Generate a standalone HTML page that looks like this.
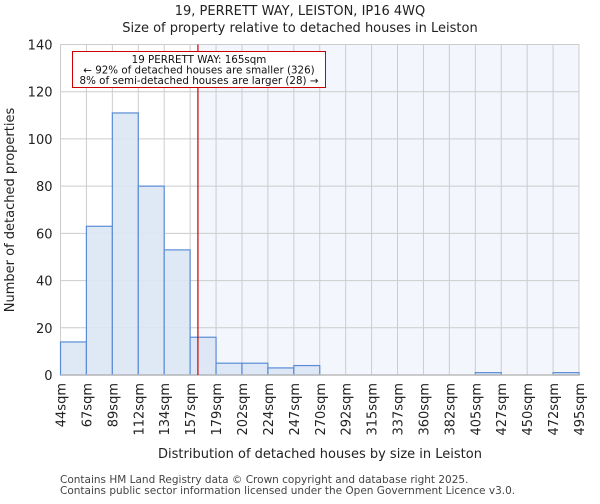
<!DOCTYPE html>
<html><head><meta charset="utf-8"><style>
body{margin:0;background:#fff;font-family:"DejaVu Sans","Liberation Sans",sans-serif;}
svg text{font-family:"DejaVu Sans","Liberation Sans",sans-serif;}
</style></head><body>
<svg id="c" width="600" height="500" xmlns="http://www.w3.org/2000/svg"></svg>
<script>
const binLabels=["44sqm","67sqm","89sqm","112sqm","134sqm","157sqm","179sqm","202sqm","224sqm","247sqm","270sqm","292sqm","315sqm","337sqm","360sqm","382sqm","405sqm","427sqm","450sqm","472sqm","495sqm"];
const counts=[14,63,111,80,53,16,5,5,3,4,0,0,0,0,0,0,1,0,0,1];
const yTicks=[0,20,40,60,80,100,120,140];
const markerPos=5.3;
const NS="http://www.w3.org/2000/svg";
const svg=document.getElementById('c');
const L=60.5,R=579,T=44.5,B=375;
const X=i=>L+(R-L)*i/counts.length;
const Y=v=>B-(B-T)*v/140;
function el(t,a,p){const e=document.createElementNS(NS,t);for(const k in a)e.setAttribute(k,a[k]);(p||svg).appendChild(e);return e;}
function tx(s,a){const e=el('text',a);e.textContent=s;return e;}
// shaded region
let sh=el('rect',{x:X(markerPos),y:T,width:R-X(markerPos),height:B-T,fill:'#f3f6fd'});

// grid
yTicks.forEach(v=>{let g=el('line',{x1:L,x2:R,y1:Y(v),y2:Y(v),stroke:'#cccccc','stroke-width':1});

let t=tx(String(v),{x:L-8,y:Y(v)+5,'text-anchor':'end','font-size':13,fill:'#222'});
});
binLabels.forEach((s,i)=>{let g=el('line',{x1:X(i),x2:X(i),y1:T,y2:B,stroke:'#cccccc','stroke-width':1});

let t=tx(s,{x:0,y:0,'text-anchor':'end','font-size':13,fill:'#222',transform:`translate(${X(i)+5},${B+8}) rotate(-90)`});
});
// bars
counts.forEach((v,i)=>{if(v<=0)return;let r=el('rect',{x:X(i),y:Y(v),width:X(i+1)-X(i),height:B-Y(v),fill:'#dce6f4',stroke:'#5a8dd6','stroke-width':1.2,'fill-opacity':0.9});
});
// axis
let ax=el('line',{x1:L,x2:R,y1:B,y2:B,stroke:'#bbbbbb','stroke-width':1.5});
// marker
let m=el('line',{x1:X(markerPos),x2:X(markerPos),y1:T,y2:B,stroke:'#cc0000','stroke-width':1.2});

// annotation
let bx=el('rect',{x:72.5,y:51.5,width:253,height:36,fill:'#fff',stroke:'#cc0000','stroke-width':1});

[["19 PERRETT WAY: 165sqm",63],["← 92% of detached houses are smaller (326)",73.5],["8% of semi-detached houses are larger (28) →",84]].forEach(([s,y])=>{
let t=tx(s,{x:199,y:y,'text-anchor':'middle','font-size':10.3,fill:'#111'});});
// titles
let t1=tx("19, PERRETT WAY, LEISTON, IP16 4WQ",{x:300,y:15,'text-anchor':'middle','font-size':13,fill:'#222'});
let t2=tx("Size of property relative to detached houses in Leiston",{x:300,y:32,'text-anchor':'middle','font-size':13,fill:'#222'});
let xt=tx("Distribution of detached houses by size in Leiston",{x:320,y:458,'text-anchor':'middle','font-size':13,fill:'#222'});
let yt=tx("Number of detached properties",{x:0,y:0,'text-anchor':'middle','font-size':13,fill:'#222',transform:'translate(14,210) rotate(-90)'});
let f1=tx("Contains HM Land Registry data © Crown copyright and database right 2025.",{x:60,y:483,'font-size':10.5,fill:'#444'});
let f2=tx("Contains public sector information licensed under the Open Government Licence v3.0.",{x:60,y:494,'font-size':10.5,fill:'#444'});
</script>
</body></html>
